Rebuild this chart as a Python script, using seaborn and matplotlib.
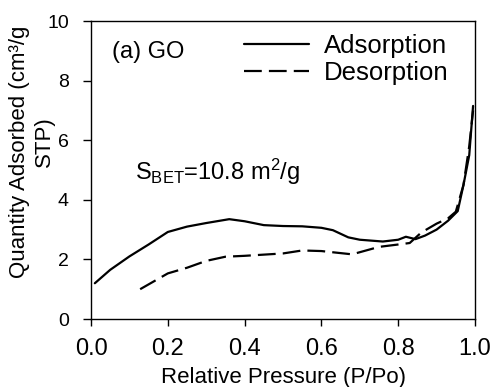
import numpy as np
import pandas as pd
import matplotlib
matplotlib.use("Agg")
import matplotlib.pyplot as plt
import seaborn as sns

ads_x = [0.01, 0.05, 0.10, 0.15, 0.20, 0.25, 0.30, 0.36, 0.40, 0.45, 0.50, 0.55, 0.60, 0.63, 0.67, 0.70, 0.76, 0.80, 0.82, 0.845, 0.87, 0.90, 0.93, 0.955, 0.97, 0.985, 0.995]
ads_y = [1.2, 1.65, 2.1, 2.5, 2.92, 3.1, 3.22, 3.35, 3.28, 3.15, 3.12, 3.11, 3.06, 2.98, 2.74, 2.66, 2.6, 2.66, 2.76, 2.68, 2.8, 3.0, 3.3, 3.62, 4.5, 5.5, 7.15]
des_x = [0.128, 0.20, 0.25, 0.30, 0.35, 0.40, 0.50, 0.55, 0.60, 0.68, 0.75, 0.80, 0.83, 0.86, 0.90, 0.93, 0.95, 0.97, 0.985, 0.995]
des_y = [1.0, 1.53, 1.72, 1.95, 2.09, 2.12, 2.2, 2.3, 2.28, 2.17, 2.42, 2.5, 2.55, 2.9, 3.2, 3.38, 3.6, 4.5, 5.8, 7.0]
series_names = ["Adsorption", "Desorption"]
x_ticks = [0.0, 0.2, 0.4, 0.6, 0.8, 1.0]
y_ticks = [0, 2, 4, 6, 8, 10]

df = pd.concat([
    pd.DataFrame({"x": ads_x, "y": ads_y, "s": series_names[0]}),
    pd.DataFrame({"x": des_x, "y": des_y, "s": series_names[1]}),
])

sns.set_style("ticks")
plt.rcParams["font.family"] = ["Liberation Sans", "DejaVu Sans"]
plt.rcParams["mathtext.fontset"] = "custom"
plt.rcParams["mathtext.rm"] = "Liberation Sans"
plt.rcParams["mathtext.it"] = "Liberation Sans"
plt.rcParams["text.color"] = "black"
plt.rcParams["axes.labelcolor"] = "black"
plt.rcParams["xtick.color"] = "black"
plt.rcParams["ytick.color"] = "black"

W, H = 494, 387
fig = plt.figure(figsize=(W/100, H/100), dpi=100)
ax = fig.add_axes([91/W, 1 - 319/H, (475-91)/W, (319-21)/H])

sns.lineplot(data=df, x="x", y="y", style="s", color="black", linewidth=1.6,
             dashes={"Adsorption": "", "Desorption": (8, 3.2)}, sort=False,
             estimator=None, ax=ax, legend=True)

ax.set_xlim(0, 1.0)
ax.set_ylim(0, 10)
ax.set_xticks(x_ticks)
ax.set_xticklabels([f"{t:.1f}" for t in x_ticks], fontsize=17)
ax.set_yticks(y_ticks)
ax.set_yticklabels([str(t) for t in y_ticks], fontsize=14)
ax.tick_params(axis="x", direction="out", length=5, width=1, colors="black", pad=9)
ax.tick_params(axis="y", direction="out", length=6, width=1, colors="black", pad=10)
for sp in ax.spines.values():
    sp.set_visible(True)
    sp.set_linewidth(1.0)
    sp.set_color("black")
ax.set_xlabel("")
ax.set_ylabel("")

fig.text(283/W, 1 - 383/H, "Relative Pressure (P/Po)", ha="center", va="baseline", fontsize=16)
fig.text(20/W, 1 - 152/H, "Quantity Adsorbed (cm³/g", rotation=90, ha="center", va="center", fontsize=16)
fig.text(44/W, 1 - 142/H, "STP)", rotation=90, ha="center", va="center", fontsize=16)

ax.text(0.055, 8.76, "(a) GO", fontsize=17, ha="left", va="baseline")
ax.text(0.115, 4.66, r"S$_{\mathrm{BET}}$=10.8 m$^{2}$/g", fontsize=17, ha="left", va="baseline")

leg = ax.legend(loc="upper right", frameon=False, fontsize=18.5, handlelength=2.5,
                borderaxespad=0.1, labelspacing=0.12, handletextpad=0.6,
                bbox_to_anchor=(0.965, 1.0))
leg.set_title(None)

fig.savefig("out.png", dpi=100)
